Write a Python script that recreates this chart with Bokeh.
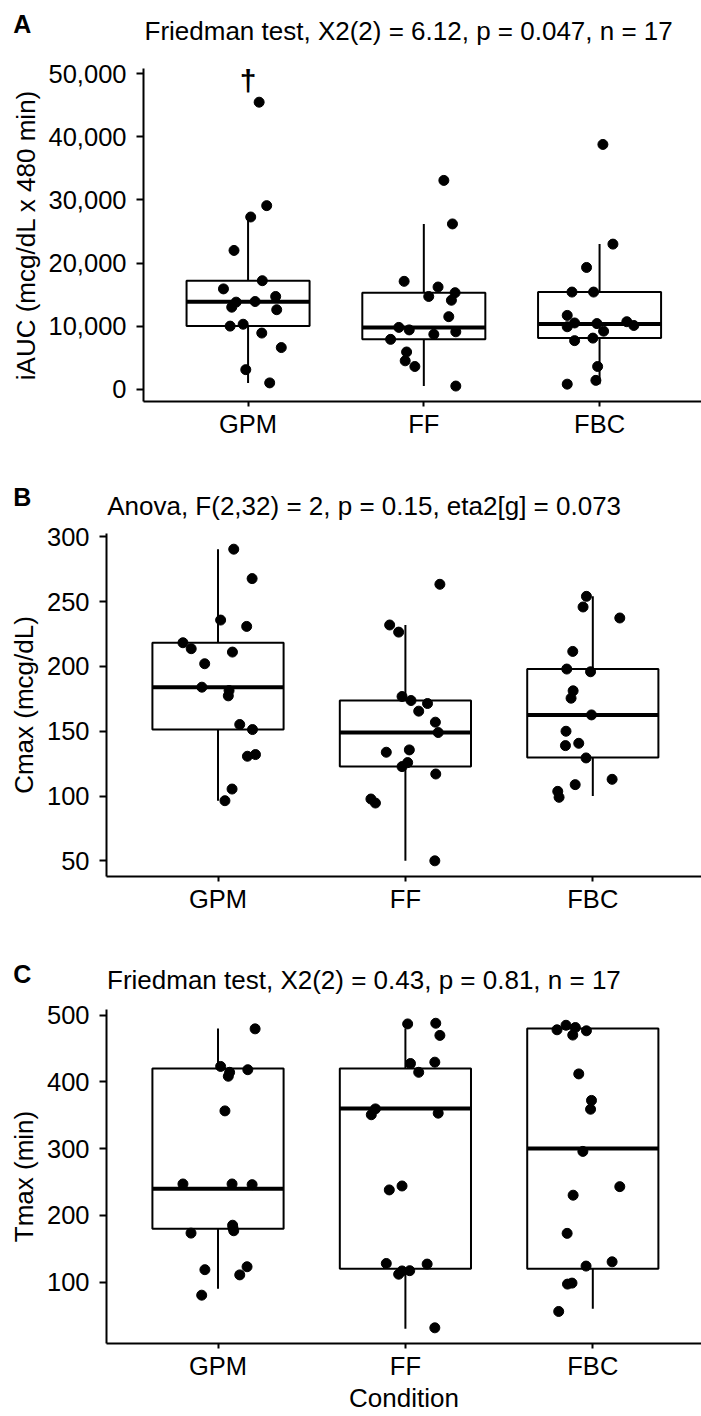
import numpy as np
from bokeh.plotting import figure
from bokeh.models import FixedTicker, NumeralTickFormatter, Label, Range1d
from bokeh.embed import file_html
from bokeh.resources import INLINE

FONT = "Liberation Sans"
W = 701

conditions = ["GPM", "FF", "FBC"]

# ---------------- Panel A: iAUC ----------------
iauc_gpm = [45500, 29100, 27300, 22000, 17200, 15900, 14700, 13800, 13900, 13000, 12600, 10000, 10300, 8900, 6600, 3100, 1000]
iauc_gpm_jit = [0.063, 0.106, 0.015, -0.080, 0.081, -0.140, 0.157, -0.068, 0.040, -0.093, 0.163, -0.102, -0.028, 0.078, 0.189, -0.013, 0.123]
iauc_ff = [33100, 26200, 17100, 16200, 14700, 15300, 14100, 11500, 9800, 9400, 8700, 9100, 7900, 5900, 4500, 3600, 500]
iauc_ff_jit = [0.114, 0.163, -0.112, 0.081, 0.028, 0.178, 0.157, 0.142, -0.142, -0.083, 0.057, 0.182, -0.189, -0.098, -0.106, -0.051, 0.182]
iauc_fbc = [38800, 23000, 19300, 15400, 15400, 11700, 10500, 9900, 10400, 10700, 10100, 9200, 7700, 8100, 3600, 1400, 800]
iauc_fbc_jit = [0.019, 0.076, -0.074, -0.157, -0.034, -0.184, -0.142, -0.184, -0.015, 0.155, 0.195, 0.023, -0.142, -0.038, -0.011, -0.021, -0.184]
iauc_q1 = [10000, 7900, 8100]
iauc_med = [13850, 9800, 10350]
iauc_q3 = [17200, 15300, 15400]
iauc_lo = [1000, 500, 800]
iauc_hi = [27300, 26200, 23000]
iauc_ticks = [0, 10000, 20000, 30000, 40000, 50000]
iauc_title = "Friedman test, X2(2) = 6.12, p = 0.047, n = 17"
iauc_ylabel = "iAUC (mcg/dL x 480 min)"
iauc_dagger_y = 49000

# ---------------- Panel B: Cmax ----------------
cmax_gpm = [290.5, 267.8, 235.8, 230.9, 218.3, 213.7, 211.1, 202.1, 184.0, 181.4, 177.3, 155.2, 151.3, 130.7, 132.0, 105.4, 96.4]
cmax_gpm_jit = [0.084, 0.182, 0.014, 0.153, -0.187, -0.143, 0.077, -0.071, -0.086, 0.059, 0.055, 0.116, 0.184, 0.157, 0.200, 0.075, 0.037]
cmax_ff = [263.4, 232.0, 226.5, 176.8, 173.7, 171.4, 165.5, 157.0, 149.0, 133.8, 135.6, 125.8, 122.7, 117.0, 97.7, 94.6, 50.0]
cmax_ff_jit = [0.184, -0.084, -0.036, -0.018, 0.030, 0.118, 0.071, 0.160, 0.175, -0.102, 0.021, 0.012, -0.018, 0.162, -0.184, -0.160, 0.157]
cmax_fbc = [254.1, 245.9, 237.4, 211.6, 198.0, 195.9, 181.2, 175.5, 162.6, 150.0, 140.7, 138.9, 129.4, 112.9, 108.8, 103.6, 99.0]
cmax_fbc_jit = [-0.034, -0.052, 0.144, -0.107, -0.139, -0.012, -0.105, -0.116, -0.007, -0.143, -0.075, -0.146, -0.036, 0.103, -0.094, -0.187, -0.180]
cmax_q1 = [151.3, 122.7, 129.7]
cmax_med = [184.0, 149.0, 162.6]
cmax_q3 = [218.3, 173.7, 198.0]
cmax_lo = [96.4, 50.0, 100.0]
cmax_hi = [290.5, 232.0, 254.1]
cmax_ticks = [50, 100, 150, 200, 250, 300]
cmax_title = "Anova, F(2,32) = 2, p = 0.15, eta2[g] = 0.073"
cmax_ylabel = "Cmax (mcg/dL)"

# ---------------- Panel C: Tmax ----------------
tmax_gpm = [479.4, 423.1, 414.3, 408.4, 418.2, 356.5, 247.0, 247.0, 246.0, 185.2, 176.9, 181.0, 173.4, 118.6, 123.0, 110.8, 80.4]
tmax_gpm_jit = [0.198, 0.014, 0.062, 0.055, 0.159, 0.037, -0.187, 0.075, 0.182, 0.078, 0.084, 0.080, -0.144, -0.070, 0.155, 0.116, -0.087]
tmax_ff = [486.8, 487.8, 469.6, 427.5, 429.5, 414.3, 359.5, 350.7, 353.1, 238.1, 244.0, 127.9, 127.0, 111.8, 116.7, 117.1, 31.5]
tmax_ff_jit = [0.012, 0.162, 0.184, 0.027, 0.157, 0.071, -0.160, -0.182, 0.175, -0.086, -0.018, -0.102, 0.116, -0.036, -0.018, 0.023, 0.157]
tmax_fbc = [478.0, 484.8, 481.4, 470.1, 476.5, 411.9, 372.2, 359.0, 295.8, 243.0, 230.2, 173.0, 124.0, 130.4, 97.0, 98.5, 56.0]
tmax_fbc_jit = [-0.191, -0.143, -0.093, -0.107, -0.034, -0.075, -0.007, -0.012, -0.053, 0.144, -0.105, -0.137, -0.036, 0.103, -0.135, -0.111, -0.182]
tmax_q1 = [180, 120, 120]
tmax_med = [240, 360, 300]
tmax_q3 = [420, 420, 480]
tmax_lo = [90, 30, 60]
tmax_hi = [480, 480, 480]
tmax_ticks = [100, 200, 300, 400, 500]
tmax_title = "Friedman test, X2(2) = 0.43, p = 0.81, n = 17"
tmax_ylabel = "Tmax (min)"
x_title = "Condition"


def text_strip(height, items):
    """A frameless strip whose data space is pixel space (y downward) for texts."""
    h = figure(width=W, height=height, output_backend="svg", toolbar_location=None,
               x_range=Range1d(0, W), y_range=Range1d(height, 0),
               x_axis_type=None, y_axis_type=None, title=None,
               min_border_left=0, min_border_right=0, min_border_top=0, min_border_bottom=0)
    h.outline_line_color = None
    h.grid.visible = False
    for (txt, x, y, size, style, align) in items:
        h.add_layout(Label(x=x, y=y, text=txt, text_font=FONT, text_font_size=size,
                           text_font_style=style, text_color="black",
                           text_baseline="middle", text_align=align))
    return h


def make_panel(groups, jits, q1, med, q3, lo, hi, yrange, yticks, ylabel,
               height, ml, mt, mb, comma=False, dagger_y=None, xlabel=None):
    p = figure(width=W, height=height, output_backend="svg", toolbar_location=None,
               x_range=Range1d(0.405, 3.58), y_range=Range1d(*yrange),
               min_border_left=ml, min_border_right=0, min_border_top=mt, min_border_bottom=mb)
    p.outline_line_color = None
    p.grid.visible = False
    p.background_fill_color = "white"
    p.border_fill_color = "white"

    pos = np.arange(1, len(conditions) + 1, dtype=float)
    half = 0.35
    q1 = np.array(q1, float); q3 = np.array(q3, float)
    p.segment(x0=pos, y0=q3, x1=pos, y1=hi, line_color="black", line_width=2)
    p.segment(x0=pos, y0=q1, x1=pos, y1=lo, line_color="black", line_width=2)
    p.quad(left=pos - half, right=pos + half, bottom=q1, top=q3,
           fill_color="white", line_color="black", line_width=2)
    p.segment(x0=pos - half, y0=med, x1=pos + half, y1=med, line_color="black", line_width=4)

    xs = np.concatenate([pos[i] + np.array(jits[i]) for i in range(len(groups))])
    ys = np.concatenate([np.array(g, float) for g in groups])
    p.scatter(xs, ys, size=10, color="black")

    p.xaxis.ticker = FixedTicker(ticks=list(pos))
    p.xaxis.major_label_overrides = {int(v): c for v, c in zip(pos, conditions)}
    p.yaxis.ticker = FixedTicker(ticks=yticks)
    if comma:
        p.yaxis.formatter = NumeralTickFormatter(format="0,0")
    for ax in (p.xaxis[0], p.yaxis[0]):
        ax.axis_line_color = "black"
        ax.axis_line_width = 2
        ax.major_tick_line_color = "black"
        ax.major_tick_line_width = 2
        ax.minor_tick_line_color = None
        ax.major_tick_in = 0
        ax.major_label_text_font = FONT
        ax.major_label_text_font_size = "25.5px"
        ax.major_label_text_color = "black"
        ax.axis_label_text_font = FONT
        ax.axis_label_text_font_size = "26px"
        ax.axis_label_text_font_style = "normal"
        ax.axis_label_text_color = "black"
    p.xaxis.major_tick_out = 5
    p.xaxis.major_label_standoff = 3
    p.yaxis.major_tick_out = 7
    p.yaxis.major_label_standoff = 10
    p.yaxis.axis_label = ylabel
    p.yaxis.axis_label_standoff = 5
    if xlabel is not None:
        p.xaxis.axis_label = xlabel
        p.xaxis.axis_label_standoff = 0

    if dagger_y is not None:
        p.add_layout(Label(x=pos[0], y=dagger_y, text="\u2020", text_font=FONT,
                           text_font_size="30px", text_font_style="bold", text_color="black",
                           text_baseline="middle", text_align="center"))
    return p


# text strips: y values are the vertical middles of the texts (baseline - ~0.35 em)
hA = text_strip(50, [("A", 12.7, 23.3, "25px", "bold", "left"),
                     (iauc_title, 144, 30, "26px", "normal", "left")])
pA = make_panel([iauc_gpm, iauc_ff, iauc_fbc], [iauc_gpm_jit, iauc_ff_jit, iauc_fbc_jit],
                iauc_q1, iauc_med, iauc_q3, iauc_lo, iauc_hi, (-1950, 50840), iauc_ticks,
                iauc_ylabel, height=410, ml=143, mt=18, mb=59,
                comma=True, dagger_y=iauc_dagger_y)

hB = text_strip(64, [("B", 12.7, 36.3, "25px", "bold", "left"),
                     (cmax_title, 106.7, 45, "26px", "normal", "left")])
pB = make_panel([cmax_gpm, cmax_ff, cmax_fbc], [cmax_gpm_jit, cmax_ff_jit, cmax_fbc_jit],
                cmax_q1, cmax_med, cmax_q3, cmax_lo, cmax_hi, (37.9, 302.6), cmax_ticks,
                cmax_ylabel, height=421, ml=106, mt=9, mb=69)

hC = text_strip(55, [("C", 12.7, 28, "25px", "bold", "left"),
                     (tmax_title, 106.5, 34, "26px", "normal", "left")])
pC = make_panel([tmax_gpm, tmax_ff, tmax_fbc], [tmax_gpm_jit, tmax_ff_jit, tmax_fbc_jit],
                tmax_q1, tmax_med, tmax_q3, tmax_lo, tmax_hi, (8.0, 508.4), tmax_ticks,
                tmax_ylabel, height=415, ml=106, mt=9, mb=65, xlabel=x_title)

roots = [hA, pA, hB, pB, hC, pC]
open("out.html", "w").write(file_html(roots, INLINE))
